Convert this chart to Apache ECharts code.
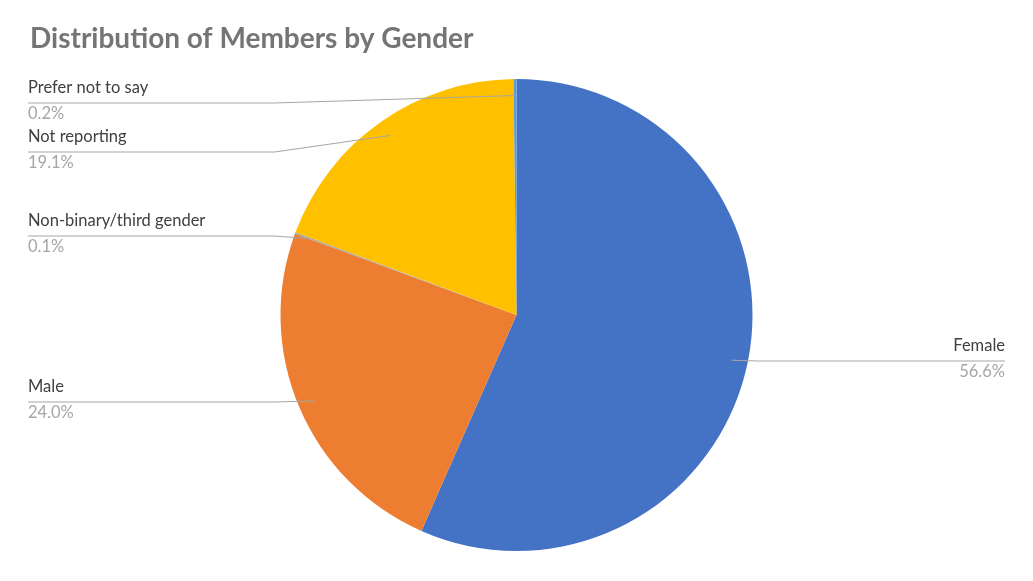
<!DOCTYPE html>
<html>
<head>
<meta charset="utf-8">
<script src="https://cdn.jsdelivr.net/npm/echarts@6/dist/echarts.min.js"></script>
<style>
  html, body { margin: 0; padding: 0; background: #fff; }
  #main { width: 1033px; height: 581px; }
</style>
</head>
<body>
<div id="main"></div>
<script>
// data
var categories = ['Female', 'Male', 'Non-binary/third gender', 'Not reporting', 'Prefer not to say'];
var shares = [56.6, 24.0, 0.1, 19.1, 0.2];
var sliceColors = ['#4472C4', '#ED7D31', '#A5A5A5', '#FFC000', '#5B9BD5'];

// where each leader line runs horizontally (label layout, not data)
var leaderY = [361, 402, 236, 152, 103];

var chart = echarts.init(document.getElementById('main'));
var radius = 236;
var cy = 315;

function pieData(filled) {
  return categories.map(function (c, i) {
    return { name: c, value: shares[i], itemStyle: { color: filled ? sliceColors[i] : 'rgba(0,0,0,0)' } };
  });
}

var basePie = {
  type: 'pie',
  center: ['50%', cy],
  radius: radius,
  startAngle: 90,
  clockwise: true,
  minShowLabelAngle: 0,
  avoidLabelOverlap: false,
  silent: true,
  itemStyle: { borderWidth: 0 }
};

chart.setOption({
  animation: false,
  title: {
    text: 'Distribution of Members by Gender',
    left: 25,
    top: 20,
    textStyle: { fontFamily: 'Lato', fontSize: 28, fontWeight: 'bold', color: '#757575' }
  },
  series: [
    // the slices
    Object.assign({}, basePie, {
      z: 2,
      label: { show: false },
      labelLine: { show: false },
      data: pieData(true)
    }),
    // same pie, invisible, only to carry labels and leaders above the slices
    Object.assign({}, basePie, {
      z: 3,
      label: {
        show: true,
        position: 'outer',
        alignTo: 'edge',
        edgeDistance: 28,
        formatter: function (p) {
          return '{n|' + p.name + '}\n{v|' + p.value.toFixed(1) + '%}';
        },
        rich: {
          n: { fontFamily: 'Lato', fontSize: 16.5, color: '#404040', lineHeight: 22 },
          v: { fontFamily: 'Lato', fontSize: 16.5, color: '#A6A6A6', lineHeight: 30 }
        }
      },
      labelLine: {
        show: true,
        length: 10,
        length2: 20,
        lineStyle: { color: '#A6A6A6', width: 1 }
      },
      labelLayout: function (p) {
        var pts = p.labelLinePoints;
        if (!pts) return {};
        var cx = chart.getWidth() / 2;
        var r = p.labelRect;
        var left = r.x < cx;
        var y = leaderY[p.dataIndex];
        // leader starts a little inside the slice, along its middle angle
        var start = [cx + (pts[0][0] - cx) * 0.93, cy + (pts[0][1] - cy) * 0.93];
        var elbowX = left ? Math.min(start[0], cx - radius - 6) : Math.max(start[0], cx + radius + 6);
        var endX = left ? r.x : r.x + r.width;
        return {
          y: y,
          verticalAlign: 'middle',
          labelLinePoints: [start, [elbowX, y], [endX, y]]
        };
      },
      data: pieData(false)
    })
  ]
});
</script>
</body>
</html>
